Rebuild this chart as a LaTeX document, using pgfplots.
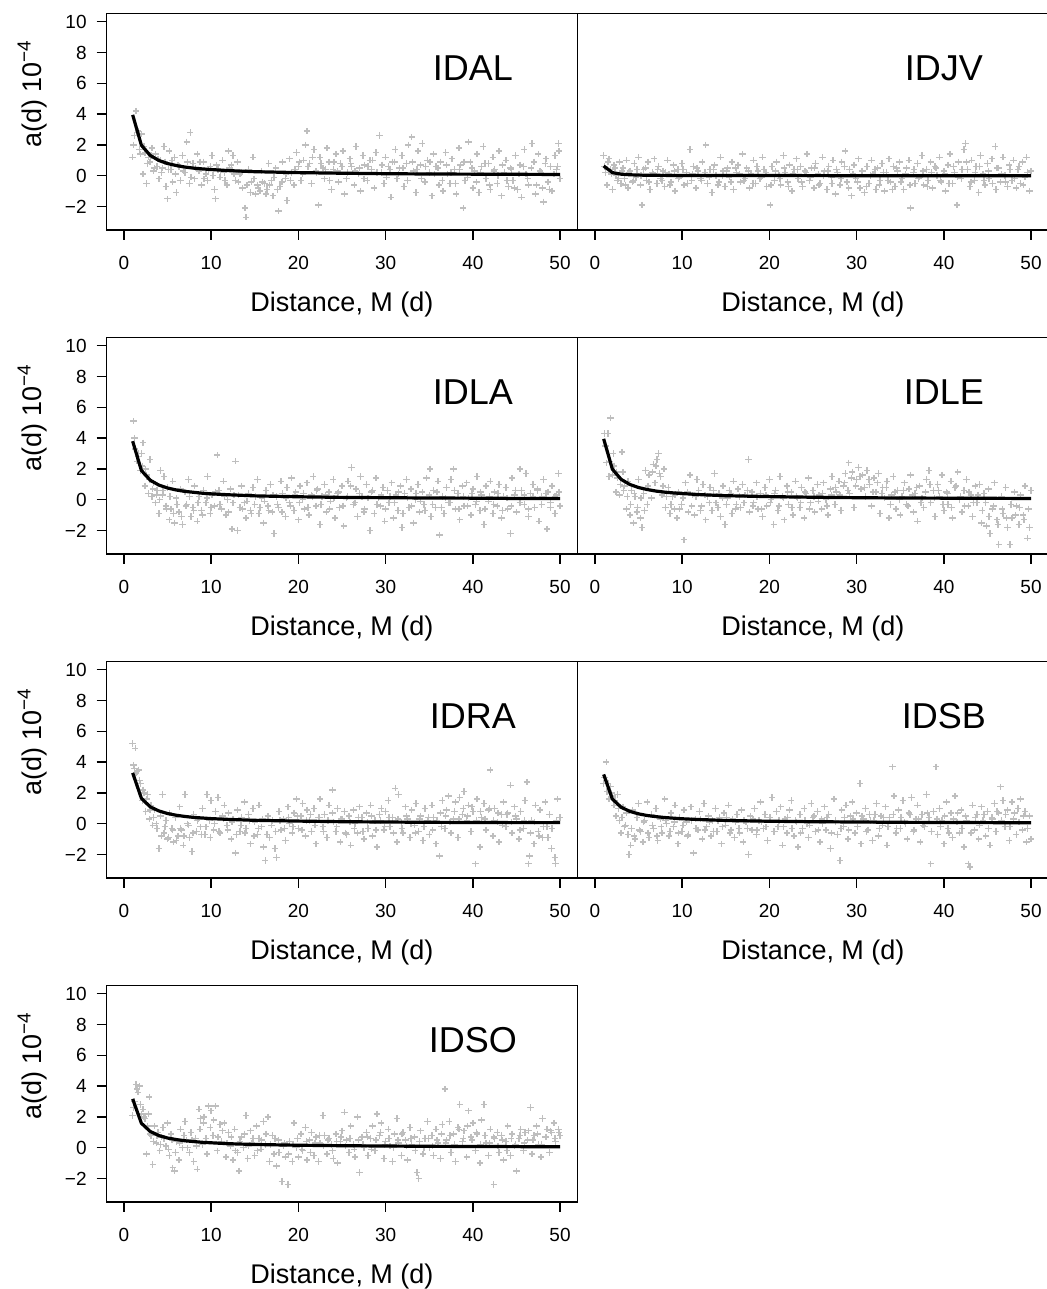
\documentclass[border=0pt]{standalone}
\usepackage{fontspec}
\setmainfont{Liberation Sans}
\usepackage{pgfplots}
\pgfplotsset{compat=1.18}
\definecolor{ptgray}{RGB}{190,190,190}
\pgfplotsset{
  rbase/.style={
    scale only axis, width=235.5pt, height=108.1pt,
    xmin=-2, xmax=52, ymin=-3.52, ymax=10.52,
    clip marker paths=true,
    xtick={0,10,20,30,40,50}, xticklabels={0,10,20,30,40,50},
    tick align=outside, xtick pos=lower, ytick pos=left,
    major tick length=5pt,
    axis line style={line width=0.75pt},
    every tick/.style={black, line width=0.75pt},
    tick label style={font=\fontsize{9.5}{11}\selectfont},
    xticklabel style={anchor=north, inner sep=0pt, yshift=-8.1pt},
    yticklabel style={anchor=east, inner sep=0pt, xshift=-4.75pt},
    xlabel={Distance, M (d)},
    xlabel style={at={(axis description cs:0.5,-0.3784)}, anchor=base, font=\fontsize{13.5}{16}\selectfont},
    anchor=south west,
  },
  rleft/.style={rbase,
    ytick={-2,0,2,4,6,8,10}, yticklabels={−2,0,2,4,6,8,10},
    ylabel={a(d) 10\textsuperscript{−4}},
    ylabel style={at={(axis description cs:-0.158,0.629)}, anchor=center, font=\fontsize{13.5}{16}\selectfont},
  },
  rright/.style={rbase, ytick=\empty},
  pts/.style={only marks, mark=+, color=ptgray, mark size=1.6pt, mark options={line width=0.7pt}},
  crv/.style={black, line width=1.6pt, line join=round, mark=none},
}
\newcommand{\plab}[1]{\node[font=\fontsize{18}{20}\selectfont] at (axis cs:40,7) {#1};}
\begin{document}
\begin{tikzpicture}
% ---------------- IDAL ----------------
\begin{axis}[rleft, at={(53.25pt,-114.95pt)}]
\addplot[pts] coordinates {(1.0,1.2)(1.2,2.6)(1.4,4.2)(1.6,2.9)(1.8,1.7)(2.0,2.7)(2.2,0.1)(2.4,1.5)(2.6,-0.5)(2.8,1.2)(3.0,0.9)(3.2,1.8)(3.4,0.3)(3.6,1.4)(3.8,0.6)(4.0,-0.2)(4.2,1.0)(4.4,0.5)(4.6,1.9)(4.8,-0.7)(5.0,-1.5)(5.2,1.6)(5.4,0.4)(5.6,-0.4)(5.8,1.2)(6.0,-1.1)(6.2,0.7)(6.5,-0.3)(6.7,1.3)(7.0,0.2)(7.2,2.2)(7.5,-0.5)(7.6,2.8)(7.9,0.8)(8.1,-0.2)(8.4,1.4)(8.6,0.3)(8.9,-0.6)(9.1,0.9)(9.4,0.1)(9.6,-0.3)(9.9,0.6)(10.1,1.3)(10.4,-0.9)(10.5,-1.5)(10.8,0.4)(11.0,-0.1)(11.3,1.0)(11.5,0.2)(11.8,-0.6)(12.0,1.6)(12.3,0.7)(12.5,1.3)(12.8,-0.3)(13.0,0.9)(13.3,0.1)(13.6,-0.8)(13.9,-2.1)(14.0,-2.7)(14.3,0.4)(14.6,-0.4)(14.8,1.2)(15.1,-1.2)(15.3,-0.6)(15.6,-1.0)(15.8,0.3)(16.1,-0.5)(16.4,-0.9)(16.6,0.8)(16.9,-0.3)(17.1,-1.3)(17.4,0.5)(17.7,-2.3)(17.9,-0.7)(18.2,0.9)(18.5,-0.2)(18.7,-1.6)(19.0,1.1)(19.2,0.2)(19.5,-0.6)(19.8,1.5)(20.0,0.6)(20.3,-0.3)(20.6,1.0)(20.8,2.0)(21.0,2.9)(21.3,0.8)(21.5,-0.5)(21.8,1.7)(22.0,0.3)(22.3,-1.9)(22.5,1.2)(22.8,0.5)(23.0,-0.2)(23.3,1.8)(23.5,0.9)(23.8,-0.9)(24.0,0.4)(24.3,1.4)(24.6,-0.4)(24.8,0.8)(25.1,1.6)(25.3,-1.2)(25.6,0.2)(25.9,1.1)(26.1,0.6)(26.4,-0.6)(26.6,1.9)(26.9,0.1)(27.1,-1.0)(27.4,1.3)(27.6,0.7)(27.9,-0.3)(28.2,1.0)(28.4,0.4)(28.7,-0.8)(28.9,1.5)(29.3,2.6)(29.5,0.2)(29.8,-0.5)(30.0,1.2)(30.3,0.6)(30.6,-1.4)(30.8,0.9)(31.1,1.7)(31.3,-0.2)(31.6,0.5)(31.9,1.3)(32.1,-0.7)(32.4,0.8)(32.6,2.0)(33.0,2.5)(33.2,0.3)(33.5,-1.1)(33.7,1.6)(34.0,0.7)(34.2,2.1)(34.5,-0.4)(34.8,1.0)(35.0,0.2)(35.3,-1.3)(35.5,1.4)(35.8,0.6)(36.1,-0.6)(36.3,0.9)(36.6,-1.0)(36.9,1.5)(37.1,0.1)(37.4,-0.5)(37.6,1.1)(37.9,0.4)(38.1,-1.2)(38.4,1.8)(38.6,0.7)(38.9,-2.1)(39.1,-0.3)(39.5,2.2)(39.7,0.9)(40.0,-0.8)(40.2,0.3)(40.5,1.4)(40.7,-1.1)(41.0,0.6)(41.2,1.9)(41.5,-0.2)(41.8,0.8)(42.0,-0.9)(42.3,1.2)(42.5,0.4)(42.8,-0.5)(43.0,1.6)(43.3,-1.3)(43.6,0.2)(43.8,1.0)(44.1,-0.7)(44.3,0.5)(44.6,-0.3)(44.9,1.3)(45.1,-0.9)(45.4,0.7)(45.6,-1.4)(45.9,1.7)(46.1,0.1)(46.4,-0.6)(46.8,2.1)(47.0,0.9)(47.2,-1.2)(47.5,1.4)(47.7,0.3)(48.0,-0.8)(48.1,-1.7)(48.4,1.1)(48.6,-0.4)(48.9,0.6)(49.1,-1.0)(49.4,1.3)(49.6,0.4)(49.8,2.1)(49.9,1.6)(50.0,-0.2)};
\addplot[pts] coordinates {(1.1,2.0)(1.5,2.8)(1.9,1.4)(2.3,1.9)(2.7,0.8)(3.1,1.3)(3.5,0.5)(3.9,1.1)(4.3,0.2)(4.7,0.9)(5.1,0.4)(5.5,1.0)(5.9,0.1)(6.3,0.6)(6.8,0.3)(7.3,0.9)(7.7,-0.1)(8.2,0.5)(8.7,0.9)(9.2,-0.2)(9.7,0.4)(10.2,0.0)(10.6,0.7)(11.1,0.3)(11.6,-0.3)(12.1,0.5)(12.6,0.1)(13.1,-0.4)(13.5,0.2)(14.1,-0.6)(14.5,-1.1)(14.9,-0.2)(15.4,-0.8)(15.9,-0.4)(16.3,-1.2)(16.7,-0.6)(17.2,-0.1)(17.6,-0.9)(18.1,-0.4)(18.6,0.1)(19.1,-0.3)(19.6,0.4)(20.1,0.9)(20.5,0.1)(21.1,0.6)(21.6,1.2)(22.1,0.2)(22.6,0.8)(23.1,0.4)(23.6,-0.3)(24.1,0.9)(24.5,0.3)(25.0,0.6)(25.5,-0.2)(26.0,0.8)(26.5,0.3)(27.0,0.5)(27.5,-0.2)(28.0,0.6)(28.5,1.0)(29.0,0.2)(29.6,0.7)(30.1,-0.1)(30.5,0.4)(31.0,0.9)(31.5,0.1)(32.0,0.5)(32.5,-0.3)(33.1,0.9)(33.6,0.4)(34.1,-0.2)(34.6,0.6)(35.1,0.9)(35.6,0.1)(36.0,0.5)(36.5,-0.3)(37.0,0.7)(37.5,0.2)(38.0,-0.5)(38.5,0.4)(39.0,0.9)(39.4,-0.1)(39.9,0.5)(40.4,-0.4)(40.9,0.2)(41.4,0.8)(41.9,-0.6)(42.4,0.3)(42.9,0.0)(43.4,0.7)(43.9,-0.3)(44.4,0.4)(44.8,-0.8)(45.3,0.1)(45.8,0.6)(46.3,-0.2)(46.7,0.5)(47.3,-0.6)(47.8,0.2)(48.3,0.8)(48.8,-0.9)(49.3,0.1)(49.7,0.6)};
\addplot[crv] coordinates {(1,3.95)(2,1.98)(3,1.32)(4,0.99)(5,0.79)(6,0.66)(7,0.56)(8,0.49)(9,0.44)(10,0.40)(12,0.33)(15,0.26)(20,0.20)(25,0.16)(30,0.13)(35,0.11)(40,0.10)(45,0.09)(50,0.08)};
\plab{IDAL}
\end{axis}
% ---------------- IDJV ----------------
\begin{axis}[rright, at={(288.75pt,-114.95pt)}]
\addplot[pts] coordinates {(1.0,1.3)(1.2,0.2)(1.4,-0.6)(1.6,1.1)(1.8,0.4)(2.0,-0.9)(2.2,0.7)(2.4,0.0)(2.6,-0.3)(2.8,0.9)(3.0,-0.5)(3.2,0.5)(3.4,-0.2)(3.6,1.0)(3.8,-0.8)(4.0,0.3)(4.3,-0.4)(4.5,0.8)(4.7,-0.1)(5.0,1.2)(5.2,-0.6)(5.4,-1.9)(5.6,0.4)(5.9,-0.3)(6.1,0.9)(6.3,-0.9)(6.6,0.2)(6.8,1.1)(7.1,-0.5)(7.3,0.6)(7.5,-0.2)(7.8,0.3)(8.0,-0.7)(8.3,1.0)(8.5,0.1)(8.7,-0.4)(9.0,0.7)(9.2,-1.0)(9.5,0.4)(9.7,-0.1)(10.0,0.8)(10.2,-0.6)(10.5,0.2)(10.9,1.7)(11.1,-0.3)(11.3,0.6)(11.6,-0.8)(11.8,0.3)(12.1,-0.2)(12.3,0.9)(12.7,2.0)(12.9,-0.5)(13.2,0.4)(13.4,-1.1)(13.7,0.7)(13.9,0.0)(14.2,-0.4)(14.4,1.2)(14.7,0.3)(14.9,-0.7)(15.2,0.5)(15.4,-0.1)(15.7,0.9)(15.9,-0.9)(16.2,0.2)(16.4,0.7)(16.7,-0.4)(16.9,1.4)(17.2,-0.2)(17.4,0.5)(17.7,-0.8)(17.9,0.1)(18.2,1.0)(18.4,-0.5)(18.7,0.3)(18.9,-0.2)(19.2,1.2)(19.4,0.4)(19.7,-0.7)(20.1,-1.9)(20.3,0.6)(20.6,-0.3)(20.8,0.9)(21.1,0.0)(21.3,-0.6)(21.6,1.3)(21.8,0.2)(22.1,-0.4)(22.3,0.7)(22.6,-1.0)(22.8,0.4)(23.1,1.1)(23.3,-0.2)(23.6,0.6)(23.8,-0.7)(24.1,0.3)(24.3,1.4)(24.6,-0.3)(24.8,0.5)(25.1,-0.8)(25.3,0.8)(25.6,0.1)(25.8,-0.5)(26.1,1.2)(26.3,0.3)(26.6,-0.9)(26.8,0.6)(27.1,-0.1)(27.3,1.0)(27.6,-1.2)(27.8,0.2)(28.1,-0.6)(28.3,0.9)(28.7,1.6)(28.9,-0.4)(29.2,0.4)(29.4,-1.3)(29.7,0.7)(29.9,-0.2)(30.2,1.1)(30.4,-0.8)(30.7,0.3)(30.9,-1.1)(31.2,0.6)(31.4,-0.5)(31.7,1.0)(31.9,0.1)(32.2,-0.9)(32.4,0.5)(32.7,-0.3)(32.9,0.8)(33.2,-1.0)(33.4,0.2)(33.7,1.1)(33.9,-0.4)(34.2,0.6)(34.4,-0.7)(34.7,0.3)(34.9,0.9)(35.2,-0.2)(35.4,-0.9)(35.7,0.5)(36.0,1.0)(36.2,-2.1)(36.5,0.2)(36.7,-0.5)(37.0,0.8)(37.2,-0.1)(37.5,1.3)(37.7,-0.6)(38.0,0.4)(38.2,-0.3)(38.5,0.9)(38.7,-0.8)(39.0,0.6)(39.2,0.0)(39.5,1.2)(39.7,-0.4)(40.0,0.3)(40.2,-1.0)(40.5,0.7)(40.7,1.4)(41.0,-0.5)(41.2,0.2)(41.5,-1.9)(41.7,0.9)(42.0,-0.2)(42.3,1.7)(42.5,2.1)(42.7,0.4)(43.0,-0.7)(43.2,1.0)(43.5,-0.3)(43.7,0.6)(44.0,-1.1)(44.2,1.3)(44.5,0.1)(44.7,-0.6)(45.0,0.8)(45.2,-0.2)(45.5,1.1)(45.9,1.9)(46.0,-0.9)(46.3,0.5)(46.5,-0.4)(46.8,1.2)(47.0,0.0)(47.3,-0.7)(47.5,0.7)(47.8,-0.3)(48.0,1.0)(48.3,-0.8)(48.5,0.4)(48.8,-0.5)(49.0,0.9)(49.3,-0.1)(49.5,1.2)(49.8,-1.0)(50.0,0.3)};
\addplot[pts] coordinates {(1.1,0.6)(1.5,0.9)(1.9,0.1)(2.3,0.5)(2.7,-0.2)(3.1,0.3)(3.5,-0.6)(3.9,0.2)(4.4,-0.3)(4.8,0.4)(5.3,0.0)(5.8,0.5)(6.2,-0.4)(6.7,0.1)(7.2,0.4)(7.7,-0.3)(8.1,0.2)(8.6,-0.6)(9.1,0.3)(9.6,-0.2)(10.1,0.4)(10.6,-0.5)(11.2,0.1)(11.7,0.5)(12.2,-0.3)(12.6,0.2)(13.1,-0.1)(13.6,0.4)(14.1,-0.6)(14.6,0.0)(15.1,0.3)(15.6,-0.4)(16.1,0.5)(16.6,0.1)(17.1,-0.3)(17.6,0.3)(18.1,-0.5)(18.6,0.6)(19.1,-0.1)(19.6,0.2)(20.2,-0.6)(20.7,0.3)(21.2,-0.2)(21.7,0.5)(22.2,-0.7)(22.7,0.1)(23.2,0.4)(23.7,-0.4)(24.2,0.2)(24.7,-0.1)(25.2,0.5)(25.7,-0.6)(26.2,0.0)(26.7,0.3)(27.2,-0.5)(27.7,0.4)(28.2,-0.2)(28.6,0.6)(29.1,-0.8)(29.6,0.1)(30.1,-0.4)(30.6,0.3)(31.1,-0.7)(31.6,0.0)(32.1,0.4)(32.6,-0.6)(33.1,0.2)(33.6,-0.3)(34.1,-0.9)(34.6,0.5)(35.1,-0.4)(35.6,0.1)(36.1,-0.6)(36.6,0.4)(37.1,-0.2)(37.6,0.3)(38.1,-0.7)(38.6,0.2)(39.1,0.5)(39.6,-0.3)(40.1,0.1)(40.6,-0.5)(41.1,0.6)(41.6,-0.1)(42.1,0.4)(42.6,0.9)(43.1,-0.4)(43.6,0.2)(44.1,0.6)(44.6,-0.3)(45.1,0.3)(45.6,-0.5)(46.1,0.5)(46.6,0.1)(47.1,-0.4)(47.6,0.4)(48.1,-0.2)(48.6,0.6)(49.1,-0.6)(49.6,0.2)};
\addplot[crv] coordinates {(1,0.63)(2,0.20)(3,0.10)(4,0.06)(5,0.04)(6,0.03)(8,0.02)(10,0.01)(20,0.01)(30,0.0)(40,0.0)(50,0.0)};
\plab{IDJV}
\end{axis}
% ---------------- IDLA ----------------
\begin{axis}[rleft, at={(53.25pt,-276.95pt)}]
\addplot[pts] coordinates {(1.1,5.1)(1.3,3.3)(1.5,2.5)(1.7,3.0)(1.9,1.9)(2.1,2.2)(2.2,3.7)(2.4,0.9)(2.6,1.6)(2.8,0.4)(3.0,2.6)(3.2,0.2)(3.4,1.1)(3.6,-0.2)(3.8,0.6)(4.0,-0.9)(4.2,1.9)(4.4,0.3)(4.6,1.5)(4.8,-0.4)(5.0,0.8)(5.2,-1.3)(5.4,-0.6)(5.6,1.2)(5.8,-1.5)(6.0,0.1)(6.3,-0.8)(6.5,0.7)(6.7,-1.6)(7.0,0.5)(7.2,-0.3)(7.4,1.3)(7.7,-1.1)(7.9,-0.5)(8.1,0.9)(8.4,-1.4)(8.6,0.2)(8.9,-0.7)(9.1,0.6)(9.4,-0.2)(9.6,1.5)(9.9,-0.9)(10.1,0.3)(10.4,-0.4)(10.7,2.9)(10.9,0.6)(11.2,-0.6)(11.4,1.2)(11.7,-1.0)(11.9,0.0)(12.2,0.7)(12.4,-1.9)(12.6,0.3)(12.8,2.5)(13.0,-2.0)(13.3,-0.5)(13.5,0.9)(13.8,-0.2)(14.0,-1.2)(14.3,0.4)(14.5,-0.7)(14.8,0.8)(15.0,-0.3)(15.3,1.3)(15.5,-0.9)(15.8,0.1)(16.0,-1.5)(16.3,0.6)(16.5,-0.4)(16.8,1.0)(17.0,-0.8)(17.2,-2.2)(17.5,0.2)(17.7,-0.5)(18.0,1.2)(18.2,0.4)(18.5,-1.1)(18.7,0.8)(19.0,-0.2)(19.2,1.4)(19.5,-0.7)(19.7,0.5)(20.0,-1.3)(20.2,0.9)(20.5,0.0)(20.7,-0.6)(21.0,1.1)(21.2,-1.0)(21.5,0.3)(21.7,1.5)(22.0,-0.4)(22.2,0.7)(22.5,-1.6)(22.7,0.2)(23.0,1.0)(23.2,-0.8)(23.5,0.5)(23.7,-0.1)(24.0,1.3)(24.2,-1.2)(24.5,0.4)(24.7,-0.5)(25.0,0.9)(25.2,-1.7)(25.5,0.1)(25.7,1.2)(26.1,2.1)(26.3,-0.3)(26.6,0.7)(26.8,-1.1)(27.1,1.5)(27.3,0.2)(27.6,-0.6)(27.8,1.0)(28.2,-2.0)(28.4,0.5)(28.7,-0.9)(28.9,1.4)(29.2,0.1)(29.4,-0.4)(29.7,0.8)(29.9,-1.4)(30.2,0.6)(30.4,-0.2)(30.7,1.1)(30.9,-1.2)(31.2,0.3)(31.4,-0.7)(31.7,0.9)(31.9,-1.8)(32.2,0.4)(32.4,1.3)(32.7,-0.5)(32.9,0.7)(33.2,-1.5)(33.4,0.0)(33.7,1.0)(33.9,-0.8)(34.2,0.5)(34.4,-0.3)(34.7,1.4)(35.1,2.0)(35.2,-1.1)(35.5,0.6)(35.7,-0.5)(36.0,1.2)(36.2,-2.3)(36.5,0.2)(36.7,-0.9)(37.0,0.8)(37.2,-0.2)(37.5,1.3)(37.8,2.0)(38.0,-0.6)(38.3,0.4)(38.5,-1.3)(38.8,0.9)(39.0,-0.4)(39.3,1.1)(39.5,0.1)(39.8,-1.0)(40.0,0.7)(40.3,-0.3)(40.5,1.5)(40.8,-0.7)(41.0,0.3)(41.3,-1.6)(41.5,0.9)(41.8,-0.1)(42.0,1.2)(42.3,-0.9)(42.5,0.5)(42.8,-0.4)(43.0,1.0)(43.3,-1.2)(43.5,0.2)(43.8,0.8)(44.0,-0.6)(44.3,-2.2)(44.5,1.4)(44.8,0.3)(45.0,-0.8)(45.4,2.0)(45.6,0.6)(45.9,-0.3)(46.1,1.7)(46.4,-1.1)(46.6,0.4)(46.9,1.0)(47.1,-0.5)(47.4,0.7)(47.6,-1.4)(47.9,0.2)(48.1,1.3)(48.5,-1.9)(48.6,0.5)(48.9,-0.2)(49.1,0.9)(49.4,-0.9)(49.6,0.3)(49.8,1.7)(50.0,-0.4)};
\addplot[pts] coordinates {(1.2,4.0)(1.6,2.8)(2.0,3.0)(2.5,2.0)(2.9,1.3)(3.3,0.7)(3.7,0.3)(4.1,0.0)(4.5,0.6)(4.9,-0.6)(5.3,0.2)(5.7,-0.9)(6.1,-0.3)(6.6,-1.1)(7.1,-0.4)(7.5,0.2)(8.0,-0.7)(8.5,-0.2)(9.0,-1.0)(9.5,0.1)(10.0,-0.5)(10.5,0.5)(11.0,-0.3)(11.5,0.2)(12.0,-0.8)(12.5,-0.2)(13.1,0.3)(13.6,-0.6)(14.1,-0.1)(14.6,-0.9)(15.1,0.2)(15.6,-0.5)(16.1,-0.1)(16.6,-0.7)(17.1,0.3)(17.6,-0.3)(18.1,-0.8)(18.6,0.1)(19.1,-0.4)(19.6,0.3)(20.1,-0.2)(20.6,0.4)(21.1,-0.5)(21.6,0.2)(22.1,0.6)(22.6,-0.3)(23.1,0.3)(23.6,-0.6)(24.1,0.1)(24.6,0.5)(25.1,-0.4)(25.6,0.2)(26.0,0.9)(26.5,-0.2)(27.0,0.4)(27.5,-0.8)(28.0,0.1)(28.5,0.6)(29.0,-0.3)(29.5,0.3)(30.0,-0.6)(30.5,0.2)(31.0,-0.2)(31.5,0.5)(32.0,-0.9)(32.5,0.1)(33.0,-0.4)(33.5,0.4)(34.0,-0.1)(34.5,-0.7)(35.0,0.3)(35.4,-0.3)(35.9,0.5)(36.4,-0.5)(36.9,0.1)(37.4,-0.2)(37.9,0.6)(38.4,-0.6)(38.9,0.2)(39.4,-0.4)(39.9,0.4)(40.4,-0.1)(40.9,0.5)(41.4,-0.6)(41.9,0.2)(42.4,-0.3)(42.9,0.4)(43.4,-0.7)(43.9,0.1)(44.4,-0.4)(44.9,0.6)(45.4,-0.2)(45.9,0.3)(46.4,-0.6)(46.9,0.2)(47.4,0.6)(47.9,-0.3)(48.4,0.4)(48.9,-0.5)(49.4,0.2)(49.9,0.5)};
\addplot[crv] coordinates {(1,3.80)(2,1.90)(3,1.27)(4,0.95)(5,0.76)(6,0.63)(7,0.54)(8,0.48)(9,0.42)(10,0.38)(12,0.32)(15,0.25)(20,0.19)(25,0.15)(30,0.13)(35,0.11)(40,0.10)(45,0.08)(50,0.08)};
\plab{IDLA}
\end{axis}
% ---------------- IDLE ----------------
\begin{axis}[rright, at={(288.75pt,-276.95pt)}]
\addplot[pts] coordinates {(1.1,4.3)(1.3,2.4)(1.5,4.3)(1.6,1.5)(1.8,5.3)(2.0,1.6)(2.2,2.2)(2.4,0.5)(2.6,1.4)(2.8,0.3)(3.1,3.1)(3.2,1.8)(3.4,0.9)(3.6,-0.6)(3.8,1.2)(4.0,-1.0)(4.2,0.6)(4.4,-1.5)(4.6,0.2)(4.8,-0.8)(5.0,1.3)(5.2,-1.2)(5.4,-1.8)(5.6,0.4)(5.8,1.9)(6.0,-0.3)(6.2,1.6)(6.5,0.1)(6.7,2.3)(6.9,1.1)(7.1,2.6)(7.3,3.0)(7.5,1.5)(7.7,0.3)(7.9,2.0)(8.1,-0.5)(8.4,0.8)(8.6,-0.9)(8.9,0.2)(9.1,-0.6)(9.4,-1.2)(9.6,0.5)(9.9,-0.3)(10.2,-2.6)(10.4,1.1)(10.7,-0.8)(10.9,1.6)(11.2,0.3)(11.4,-1.0)(11.7,1.3)(11.9,0.6)(12.2,-0.4)(12.4,1.0)(12.7,-1.3)(12.9,0.2)(13.2,0.8)(13.4,-0.7)(13.7,1.7)(13.9,-0.2)(14.2,0.4)(14.4,-1.1)(14.7,0.9)(14.9,-1.6)(15.2,0.1)(15.4,0.6)(15.7,-0.9)(15.9,1.2)(16.2,-0.3)(16.4,0.7)(16.7,-0.5)(16.9,1.0)(17.2,0.3)(17.6,2.6)(17.7,-0.8)(18.0,0.5)(18.2,-0.2)(18.5,1.1)(18.7,-0.6)(19.0,0.4)(19.2,-1.1)(19.5,0.8)(19.7,-0.4)(20.0,1.3)(20.2,0.0)(20.5,-1.6)(20.7,0.6)(21.0,-0.7)(21.2,1.5)(21.5,0.2)(21.7,-1.3)(22.0,0.9)(22.2,-0.3)(22.5,0.5)(22.7,-1.0)(23.0,1.2)(23.2,0.1)(23.5,-0.5)(23.7,0.8)(24.0,-1.2)(24.2,0.4)(24.5,1.4)(24.7,-0.2)(25.0,0.6)(25.2,-0.8)(25.5,1.0)(25.7,0.3)(26.0,-0.6)(26.2,1.1)(26.5,0.0)(26.7,-1.0)(27.0,0.7)(27.2,1.5)(27.5,-0.3)(27.7,0.5)(28.0,1.2)(28.2,-0.7)(28.5,0.9)(28.7,1.7)(29.1,2.4)(29.2,0.4)(29.5,1.8)(29.7,-0.5)(30.0,1.3)(30.2,2.1)(30.5,0.7)(30.7,1.6)(31.0,0.2)(31.2,1.9)(31.5,1.0)(31.7,-0.4)(32.0,1.4)(32.2,0.5)(32.5,1.7)(32.7,-0.9)(33.0,0.8)(33.2,0.1)(33.5,1.2)(33.7,-1.2)(34.0,0.3)(34.2,1.5)(34.5,-0.6)(34.7,0.6)(35.0,-1.0)(35.2,0.2)(35.5,1.1)(35.7,-0.3)(36.0,0.7)(36.2,1.6)(36.5,-0.8)(36.7,0.4)(37.0,-1.4)(37.2,0.9)(37.5,0.1)(37.7,-0.5)(38.0,1.3)(38.3,1.9)(38.5,-0.2)(38.8,0.6)(39.0,-1.1)(39.3,1.0)(39.5,0.2)(39.8,1.6)(40.0,-0.7)(40.3,0.5)(40.5,-0.3)(40.8,1.2)(41.0,-1.2)(41.3,0.8)(41.6,1.8)(41.8,0.0)(42.1,-0.8)(42.3,0.6)(42.6,1.3)(42.8,-0.4)(43.1,0.3)(43.3,-1.1)(43.6,0.9)(43.8,-0.2)(44.1,1.0)(44.3,-1.5)(44.6,0.4)(44.9,-1.7)(45.1,0.7)(45.3,-2.2)(45.6,-0.6)(45.8,1.1)(46.1,-1.3)(46.3,-2.9)(46.6,0.2)(46.8,-0.9)(47.1,0.8)(47.3,-1.8)(47.6,-2.9)(47.8,-1.2)(48.1,0.5)(48.3,-0.4)(48.6,-1.6)(48.8,0.3)(49.1,-1.0)(49.3,0.9)(49.6,-2.5)(49.8,-1.8)(50.0,0.6)};
\addplot[pts] coordinates {(1.2,3.5)(1.7,2.5)(2.1,3.0)(2.5,1.8)(2.9,1.0)(3.3,0.6)(3.7,0.2)(4.1,-0.3)(4.5,0.4)(4.9,-0.5)(5.3,0.1)(5.7,-0.7)(6.1,0.9)(6.6,1.8)(7.0,2.2)(7.4,1.7)(7.8,0.9)(8.2,0.2)(8.7,-0.3)(9.2,0.3)(9.7,-0.6)(10.1,0.1)(10.6,0.5)(11.1,-0.4)(11.6,0.2)(12.1,-0.7)(12.6,0.3)(13.1,-0.2)(13.6,0.6)(14.1,-0.5)(14.6,0.1)(15.1,-0.3)(15.6,0.4)(16.1,-0.6)(16.6,0.2)(17.1,-0.2)(17.5,0.6)(18.1,-0.4)(18.6,0.2)(19.1,-0.6)(19.6,0.3)(20.1,-0.2)(20.6,0.4)(21.1,-0.4)(21.6,0.1)(22.1,0.5)(22.6,-0.5)(23.1,0.2)(23.6,-0.2)(24.1,0.5)(24.6,-0.6)(25.1,0.2)(25.6,-0.1)(26.1,0.4)(26.6,-0.4)(27.1,0.3)(27.6,0.8)(28.1,0.3)(28.6,1.1)(29.0,0.6)(29.4,1.4)(29.9,0.9)(30.4,1.5)(30.9,0.8)(31.4,1.3)(31.9,0.5)(32.4,1.1)(32.9,0.4)(33.4,0.8)(33.9,-0.3)(34.4,0.5)(34.9,0.0)(35.4,0.6)(35.9,-0.4)(36.4,0.3)(36.9,0.8)(37.4,-0.2)(37.9,0.5)(38.4,1.0)(38.9,0.1)(39.4,0.6)(39.9,-0.3)(40.4,0.4)(40.9,-0.5)(41.4,0.9)(41.9,0.2)(42.4,-0.4)(42.9,0.5)(43.4,-0.2)(43.9,0.3)(44.4,-0.7)(44.8,-0.2)(45.2,-1.1)(45.7,-0.4)(46.2,-1.6)(46.7,-0.6)(47.2,-1.2)(47.7,-0.3)(48.2,-1.0)(48.7,-0.5)(49.2,-1.3)(49.7,-0.6)};
\addplot[crv] coordinates {(1,3.95)(2,1.98)(3,1.32)(4,0.99)(5,0.79)(6,0.66)(7,0.56)(8,0.49)(9,0.44)(10,0.40)(12,0.33)(15,0.26)(20,0.20)(25,0.16)(30,0.13)(35,0.11)(40,0.10)(45,0.09)(50,0.08)};
\plab{IDLE}
\end{axis}
% ---------------- IDRA ----------------
\begin{axis}[rleft, at={(53.25pt,-438.95pt)}]
\addplot[pts] coordinates {(1.0,5.2)(1.2,3.6)(1.3,4.9)(1.5,3.4)(1.7,3.5)(1.9,2.6)(2.1,1.5)(2.3,2.0)(2.5,0.8)(2.7,1.9)(2.9,0.3)(3.1,1.2)(3.3,-0.1)(3.5,0.9)(3.7,0.0)(4.0,-1.6)(4.2,0.5)(4.4,1.9)(4.6,-0.6)(4.8,0.2)(5.0,-1.0)(5.2,0.7)(5.5,-0.3)(5.7,-1.2)(5.9,0.4)(6.2,-0.8)(6.4,1.1)(6.6,-0.4)(6.8,-1.4)(7.0,1.9)(7.3,0.0)(7.5,-0.9)(7.8,-1.8)(8.0,0.6)(8.3,-0.5)(8.5,0.3)(8.8,-0.2)(9.0,1.0)(9.3,-0.7)(9.5,1.9)(9.8,0.2)(10.0,1.5)(10.3,-0.4)(10.5,0.8)(10.8,1.7)(11.0,-0.6)(11.3,0.5)(11.5,1.2)(11.8,-0.1)(12.0,0.7)(12.3,-1.0)(12.5,0.3)(12.8,-1.9)(13.0,0.9)(13.3,-0.5)(13.5,0.4)(13.8,1.4)(14.0,-0.3)(14.3,0.6)(14.5,-1.3)(14.8,1.0)(15.0,0.1)(15.3,-0.7)(15.5,1.2)(15.8,-0.2)(16.0,-1.5)(16.2,-2.4)(16.5,0.5)(16.7,-0.9)(17.0,0.2)(17.3,-1.6)(17.5,-2.2)(17.8,0.8)(18.0,-0.4)(18.3,0.3)(18.5,-1.1)(18.8,1.1)(19.0,0.0)(19.3,-0.6)(19.5,0.7)(19.8,1.6)(20.0,-0.3)(20.3,0.5)(20.5,1.3)(20.8,-0.8)(21.0,0.9)(21.3,0.2)(21.5,-0.5)(21.8,1.0)(22.0,-1.3)(22.3,0.4)(22.5,1.6)(22.8,-0.2)(23.0,0.6)(23.3,-0.9)(23.5,1.2)(23.9,2.2)(24.0,0.1)(24.3,-0.5)(24.5,1.0)(24.8,-1.2)(25.0,0.3)(25.3,0.8)(25.5,-0.7)(25.8,0.5)(26.0,-1.4)(26.3,0.9)(26.5,0.0)(26.8,-0.6)(27.0,1.1)(27.3,0.4)(27.5,-1.0)(27.8,0.7)(28.0,-0.3)(28.3,1.2)(28.5,-0.8)(28.8,0.2)(29.0,-1.5)(29.3,0.6)(29.5,1.0)(29.8,-0.4)(30.0,0.8)(30.3,1.5)(30.5,-0.2)(30.8,0.4)(31.1,2.3)(31.3,-1.2)(31.5,1.9)(31.8,0.1)(32.0,-0.6)(32.3,1.1)(32.5,0.3)(32.8,-0.9)(33.0,0.9)(33.3,-0.1)(33.5,1.3)(33.8,-0.5)(34.0,0.5)(34.3,-1.1)(34.5,1.0)(34.8,0.2)(35.0,-0.7)(35.3,1.2)(35.5,0.4)(35.8,-1.3)(36.2,-2.1)(36.3,0.7)(36.5,1.5)(36.8,-0.3)(37.0,0.9)(37.2,1.8)(37.5,-0.6)(37.8,0.3)(38.0,1.4)(38.3,-0.9)(38.5,1.7)(38.8,0.6)(39.0,2.1)(39.3,0.2)(39.5,1.2)(39.8,-0.5)(40.0,0.8)(40.3,-2.6)(40.5,1.6)(40.8,-1.5)(41.0,0.4)(41.3,1.3)(41.5,-0.4)(41.8,0.9)(42.0,3.5)(42.3,-0.8)(42.5,1.0)(42.8,0.1)(43.0,-1.2)(43.3,0.6)(43.5,1.4)(43.8,-0.2)(44.0,0.7)(44.3,2.5)(44.5,-0.6)(44.8,1.1)(45.0,0.3)(45.3,-1.0)(45.5,0.8)(45.8,-0.3)(46.0,1.5)(46.2,2.7)(46.4,-2.6)(46.5,-2.1)(46.7,0.2)(47.0,-1.3)(47.2,1.2)(47.5,-0.5)(47.7,0.9)(48.0,-0.9)(48.3,1.4)(48.5,-0.2)(48.8,0.6)(49.0,-1.6)(49.4,-2.2)(49.5,-2.6)(49.7,1.6)(50.0,0.4)};
\addplot[pts] coordinates {(1.1,3.8)(1.4,3.3)(1.8,2.8)(2.2,2.2)(2.6,1.6)(3.0,0.9)(3.4,0.4)(3.8,-0.3)(4.3,-0.8)(4.7,-0.2)(5.1,-0.9)(5.6,-0.4)(6.0,-1.1)(6.5,-0.3)(6.9,-0.8)(7.4,-0.1)(7.9,-0.6)(8.4,0.2)(8.9,-0.7)(9.4,-0.2)(9.9,-0.9)(10.4,0.0)(10.9,-0.5)(11.4,0.3)(11.9,-0.4)(12.4,0.1)(12.9,-0.7)(13.4,-0.1)(13.9,-0.6)(14.4,0.2)(14.9,-0.8)(15.4,-0.3)(15.9,0.3)(16.4,-0.7)(16.9,-0.1)(17.4,-0.5)(17.9,0.2)(18.4,-0.3)(18.9,0.4)(19.4,-0.2)(19.9,0.5)(20.4,-0.4)(20.9,0.2)(21.4,0.6)(21.9,-0.1)(22.4,0.4)(22.9,-0.5)(23.4,0.2)(23.9,0.7)(24.4,-0.2)(24.9,0.3)(25.4,-0.6)(25.9,0.1)(26.4,-0.3)(26.9,0.4)(27.4,-0.5)(27.9,0.1)(28.4,0.5)(28.9,-0.4)(29.4,0.2)(29.9,-0.2)(30.4,0.4)(30.9,-0.6)(31.4,0.3)(31.9,-0.3)(32.4,0.5)(32.9,0.0)(33.4,-0.6)(33.9,0.3)(34.4,-0.2)(34.9,0.4)(35.4,-0.4)(35.9,0.2)(36.4,-0.2)(36.9,0.5)(37.4,0.1)(37.9,0.8)(38.4,0.3)(38.9,1.0)(39.4,0.5)(39.9,1.1)(40.4,0.2)(40.9,0.8)(41.4,0.3)(41.9,1.0)(42.4,0.2)(42.9,0.7)(43.4,-0.1)(43.9,0.6)(44.4,0.1)(44.9,0.5)(45.4,-0.4)(45.9,0.2)(46.6,-0.6)(47.1,0.1)(47.6,-0.8)(48.1,-0.2)(48.6,-0.9)(49.1,-0.3)(49.6,0.2)};
\addplot[crv] coordinates {(1,3.30)(2,1.65)(3,1.10)(4,0.83)(5,0.66)(6,0.55)(7,0.47)(8,0.41)(9,0.37)(10,0.33)(12,0.28)(15,0.22)(20,0.17)(25,0.13)(30,0.11)(35,0.09)(40,0.08)(45,0.07)(50,0.07)};
\plab{IDRA}
\end{axis}
% ---------------- IDSB ----------------
\begin{axis}[rright, at={(288.75pt,-438.95pt)}]
\addplot[pts] coordinates {(1.0,2.6)(1.3,4.0)(1.4,2.1)(1.6,1.6)(1.8,2.4)(2.0,1.8)(2.2,1.2)(2.4,0.5)(2.6,1.9)(2.8,0.2)(3.0,-0.6)(3.2,1.1)(3.4,-0.2)(3.6,0.7)(3.9,-2.0)(4.1,-1.4)(4.3,0.9)(4.5,-0.8)(4.8,0.4)(5.0,1.3)(5.2,-0.5)(5.5,-1.2)(5.7,0.2)(6.0,1.4)(6.2,-0.9)(6.5,0.6)(6.7,-0.3)(7.0,1.0)(7.2,-1.1)(7.5,0.3)(7.7,-0.6)(8.0,1.6)(8.2,0.0)(8.5,-0.8)(8.7,0.7)(9.0,-0.2)(9.2,1.2)(9.5,-1.3)(9.7,0.4)(10.0,-0.5)(10.2,0.9)(10.5,0.1)(10.7,-0.7)(11.0,1.1)(11.3,-1.9)(11.5,0.3)(11.8,-0.4)(12.0,0.8)(12.3,-1.0)(12.5,1.3)(12.8,-0.2)(13.0,0.5)(13.3,-0.8)(13.5,0.2)(13.8,1.0)(14.0,-0.5)(14.3,0.4)(14.5,-1.3)(14.8,0.7)(15.0,-0.1)(15.3,1.2)(15.5,-0.6)(15.8,0.3)(16.0,-0.9)(16.3,0.6)(16.5,-0.3)(16.8,0.9)(17.0,-1.2)(17.3,0.1)(17.6,-2.0)(17.8,0.5)(18.0,-0.4)(18.3,1.0)(18.5,-0.7)(18.8,0.2)(19.0,1.4)(19.3,-0.3)(19.5,0.6)(19.8,-1.1)(20.0,0.4)(20.3,1.7)(20.5,-0.5)(20.8,0.8)(21.0,-0.2)(21.3,1.1)(21.5,-1.4)(21.8,0.3)(22.0,-0.6)(22.3,0.9)(22.5,1.5)(22.8,-0.8)(23.0,0.2)(23.3,-1.5)(23.5,0.6)(23.8,-0.3)(24.0,1.0)(24.3,0.0)(24.5,-0.9)(24.8,1.3)(25.0,0.4)(25.3,-0.5)(25.5,0.8)(25.8,-1.2)(26.0,0.3)(26.3,1.1)(26.5,-0.4)(26.8,0.6)(27.0,-1.6)(27.4,1.6)(27.6,0.1)(27.8,-0.7)(28.1,-2.4)(28.3,0.9)(28.5,-0.2)(28.8,1.2)(29.0,-1.0)(29.3,0.5)(29.5,1.4)(29.8,-0.6)(30.0,0.7)(30.4,2.6)(30.5,-1.3)(30.8,0.3)(31.0,1.0)(31.3,-0.4)(31.5,0.6)(31.8,-1.1)(32.0,0.2)(32.3,1.3)(32.5,-0.8)(32.8,0.5)(33.0,-0.1)(33.3,1.1)(33.5,-1.4)(33.8,0.4)(34.1,3.7)(34.3,1.8)(34.5,-0.6)(34.8,0.9)(35.0,-0.3)(35.3,1.5)(35.5,0.1)(35.8,-1.0)(36.0,0.7)(36.3,1.7)(36.5,-0.5)(36.8,0.3)(37.0,1.2)(37.3,-1.2)(37.5,0.6)(37.8,-0.2)(38.0,1.9)(38.3,0.4)(38.5,-2.6)(38.8,0.8)(39.1,3.7)(39.3,-0.7)(39.5,1.0)(39.8,0.2)(40.0,-1.3)(40.3,1.4)(40.5,-0.3)(40.8,0.7)(41.0,-0.9)(41.3,1.8)(41.5,0.1)(41.8,-0.6)(42.0,0.9)(42.3,-1.5)(42.5,0.5)(42.8,-2.6)(43.0,-2.8)(43.3,1.2)(43.5,-0.4)(43.8,0.6)(44.0,-1.0)(44.3,1.1)(44.5,0.2)(44.8,-0.8)(45.0,0.8)(45.3,-1.4)(45.5,0.4)(45.8,1.3)(46.0,-0.5)(46.3,0.7)(46.5,2.4)(46.8,1.5)(47.0,-0.2)(47.3,0.9)(47.5,-1.1)(47.8,1.4)(48.0,0.3)(48.3,-0.7)(48.5,1.0)(48.8,1.6)(49.0,-0.4)(49.3,0.8)(49.5,-1.2)(49.8,0.5)(50.0,-1.0)};
\addplot[pts] coordinates {(1.1,3.0)(1.5,2.6)(1.9,2.0)(2.3,1.5)(2.7,1.0)(3.1,0.4)(3.5,-0.1)(3.8,-0.7)(4.2,-0.3)(4.6,-1.0)(5.1,-0.4)(5.6,0.1)(6.1,-0.6)(6.6,-0.1)(7.1,-0.8)(7.6,-0.2)(8.1,0.2)(8.6,-0.5)(9.1,0.1)(9.6,-0.6)(10.1,-0.1)(10.6,-0.8)(11.1,0.2)(11.6,-0.3)(12.1,0.3)(12.6,-0.4)(13.1,0.1)(13.6,-0.5)(14.1,0.2)(14.6,-0.2)(15.1,0.4)(15.6,-0.4)(16.1,0.1)(16.6,-0.6)(17.1,0.2)(17.5,-0.3)(18.1,0.3)(18.6,-0.4)(19.1,0.1)(19.6,-0.2)(20.1,0.4)(20.6,-0.5)(21.1,0.2)(21.6,-0.2)(22.1,0.4)(22.6,-0.3)(23.1,0.1)(23.6,-0.6)(24.1,0.2)(24.6,-0.1)(25.1,0.5)(25.6,-0.4)(26.1,0.0)(26.6,0.4)(27.1,-0.6)(27.6,0.2)(28.2,-0.3)(28.6,0.4)(29.1,-0.4)(29.6,0.3)(30.1,-0.2)(30.6,0.5)(31.1,-0.5)(31.6,0.2)(32.1,0.6)(32.6,-0.3)(33.1,0.4)(33.6,-0.2)(34.2,0.6)(34.6,-0.3)(35.1,0.4)(35.6,0.0)(36.1,0.6)(36.6,-0.4)(37.1,0.3)(37.6,-0.1)(38.1,0.7)(38.6,-0.5)(39.2,0.3)(39.6,-0.2)(40.1,0.5)(40.6,-0.6)(41.1,0.3)(41.6,0.7)(42.1,-0.3)(42.6,0.2)(43.1,-0.6)(43.6,0.4)(44.1,-0.1)(44.6,0.6)(45.1,-0.3)(45.6,0.3)(46.1,0.8)(46.6,0.2)(47.1,0.6)(47.6,-0.2)(48.1,0.7)(48.6,0.1)(49.1,0.5)(49.6,-0.3)};
\addplot[crv] coordinates {(1,3.20)(2,1.60)(3,1.07)(4,0.80)(5,0.64)(6,0.53)(7,0.46)(8,0.40)(9,0.36)(10,0.32)(12,0.27)(15,0.21)(20,0.16)(25,0.13)(30,0.11)(35,0.09)(40,0.08)(45,0.07)(50,0.06)};
\plab{IDSB}
\end{axis}
% ---------------- IDSO ----------------
\begin{axis}[rleft, at={(53.25pt,-600.95pt)}]
\addplot[pts] coordinates {(1.0,2.1)(1.2,3.0)(1.4,4.1)(1.6,3.6)(1.8,4.0)(2.0,2.2)(2.2,2.5)(2.4,1.9)(2.6,-0.4)(2.8,2.2)(2.9,3.3)(3.1,0.8)(3.3,-1.1)(3.5,1.4)(3.7,0.3)(3.9,1.0)(4.1,-0.2)(4.3,0.7)(4.5,1.3)(4.8,0.1)(5.0,1.6)(5.2,-0.5)(5.4,0.9)(5.6,-1.3)(5.8,-1.5)(6.0,0.4)(6.3,-0.8)(6.5,1.2)(6.7,0.0)(7.0,1.7)(7.2,0.5)(7.5,-0.3)(7.7,1.0)(8.0,-0.9)(8.2,0.6)(8.4,-1.4)(8.6,2.5)(8.8,1.9)(9.0,0.2)(9.2,2.0)(9.5,-0.4)(9.7,2.7)(10.0,2.4)(10.2,0.8)(10.5,2.7)(10.7,-0.2)(11.0,1.5)(11.2,0.4)(11.5,1.6)(11.7,-0.6)(12.0,1.0)(12.2,0.1)(12.5,-0.8)(12.7,1.2)(13.0,-0.3)(13.2,-1.5)(13.5,0.7)(13.7,0.0)(14.0,2.1)(14.2,-0.7)(14.5,1.1)(14.7,0.3)(15.0,-0.5)(15.2,1.4)(15.5,0.6)(15.7,-0.1)(16.0,1.7)(16.2,0.2)(16.5,2.0)(16.7,-0.9)(17.0,0.8)(17.2,-0.4)(17.5,-1.2)(17.7,0.5)(18.1,-2.2)(18.3,0.1)(18.5,-0.6)(18.8,-2.4)(19.0,0.4)(19.3,-0.9)(19.5,1.6)(19.8,0.0)(20.0,-0.6)(20.3,0.9)(20.5,-0.2)(20.8,1.3)(21.0,-0.8)(21.3,0.5)(21.5,1.0)(21.8,-0.5)(22.0,0.7)(22.3,-0.9)(22.5,0.3)(22.8,2.1)(23.0,0.8)(23.3,-0.4)(23.5,0.6)(23.8,0.2)(24.0,-0.7)(24.3,0.9)(24.5,-1.0)(24.8,0.4)(25.0,1.1)(25.3,2.3)(25.5,0.5)(25.8,-0.3)(26.0,1.4)(26.3,0.2)(26.5,-0.6)(26.8,2.0)(27.0,-1.6)(27.3,0.7)(27.5,0.0)(27.8,1.0)(28.0,-0.5)(28.3,0.6)(28.5,1.4)(28.8,-0.2)(29.0,2.2)(29.3,0.8)(29.5,1.6)(29.8,-0.7)(30.0,0.4)(30.3,1.2)(30.5,0.1)(30.8,-0.9)(31.0,0.9)(31.3,1.9)(31.5,0.3)(31.8,-0.5)(32.0,1.0)(32.3,0.5)(32.5,-0.8)(32.8,1.3)(33.0,0.2)(33.3,0.7)(33.6,-1.6)(33.8,-2.0)(34.0,1.1)(34.3,-0.4)(34.5,0.6)(34.8,1.7)(35.0,0.0)(35.3,0.8)(35.5,-0.5)(35.8,1.2)(36.0,0.3)(36.3,-0.7)(36.5,1.5)(36.8,3.8)(37.0,0.5)(37.3,1.7)(37.5,-0.3)(37.8,0.9)(38.0,-0.9)(38.3,1.3)(38.5,2.8)(38.8,0.4)(39.0,1.1)(39.3,-0.6)(39.5,2.4)(39.8,0.7)(40.0,1.6)(40.3,-0.2)(40.5,0.9)(40.8,-1.0)(41.0,1.8)(41.3,2.8)(41.5,0.3)(41.8,-0.5)(42.0,1.2)(42.4,-2.4)(42.5,0.6)(42.8,1.0)(43.0,-0.3)(43.3,0.8)(43.5,-0.8)(43.8,0.4)(44.0,1.4)(44.3,-0.5)(44.5,0.9)(44.8,0.1)(45.0,-1.5)(45.3,0.6)(45.5,1.2)(45.8,-0.2)(46.0,1.0)(46.3,0.5)(46.6,2.6)(46.8,-0.4)(47.0,0.8)(47.3,1.4)(47.5,0.2)(47.8,-0.6)(48.0,1.9)(48.3,0.7)(48.5,1.2)(48.8,-0.3)(49.0,1.0)(49.3,1.6)(49.5,0.4)(49.8,1.2)(50.0,0.8)};
\addplot[pts] coordinates {(1.1,2.6)(1.5,3.8)(1.9,2.8)(2.3,2.0)(2.7,1.4)(3.0,0.9)(3.4,0.4)(3.8,0.8)(4.2,0.2)(4.6,0.6)(5.1,-0.1)(5.5,0.5)(5.9,-0.3)(6.4,0.3)(6.9,0.8)(7.3,0.0)(7.8,0.5)(8.3,0.1)(8.7,1.2)(9.1,1.6)(9.4,0.6)(9.9,1.3)(10.3,1.8)(10.8,0.7)(11.3,1.1)(11.8,0.3)(12.3,0.7)(12.8,-0.2)(13.3,0.4)(13.8,0.9)(14.3,0.1)(14.8,0.6)(15.3,-0.2)(15.8,0.5)(16.3,0.9)(16.8,0.2)(17.3,0.6)(17.8,-0.3)(18.4,0.3)(18.9,-0.4)(19.4,0.2)(19.9,0.6)(20.4,-0.1)(20.9,0.4)(21.4,-0.3)(21.9,0.3)(22.4,0.8)(22.9,0.1)(23.4,0.5)(23.9,-0.2)(24.4,0.4)(24.9,0.7)(25.4,0.1)(25.9,0.6)(26.4,-0.1)(26.9,0.5)(27.4,0.2)(27.9,0.7)(28.4,-0.1)(28.9,0.5)(29.4,1.0)(29.9,0.2)(30.4,0.6)(30.9,0.0)(31.4,0.5)(31.9,0.9)(32.4,0.1)(32.9,0.6)(33.4,-0.2)(33.9,0.4)(34.4,0.0)(34.9,0.6)(35.4,0.1)(35.9,0.5)(36.4,0.9)(36.9,0.3)(37.4,0.8)(37.9,0.2)(38.4,1.2)(38.9,0.6)(39.4,1.4)(39.9,0.5)(40.4,1.0)(40.9,0.2)(41.4,0.8)(41.9,0.3)(42.4,0.7)(42.9,0.1)(43.4,0.5)(43.9,-0.2)(44.4,0.6)(44.9,0.2)(45.4,0.8)(45.9,0.3)(46.4,1.1)(46.9,0.5)(47.4,0.9)(47.9,0.2)(48.4,0.7)(48.9,1.1)(49.4,0.6)(49.9,1.0)};
\addplot[crv] coordinates {(1,3.17)(2,1.59)(3,1.06)(4,0.79)(5,0.63)(6,0.53)(7,0.45)(8,0.40)(9,0.35)(10,0.32)(12,0.26)(15,0.21)(20,0.16)(25,0.13)(30,0.11)(35,0.09)(40,0.08)(45,0.07)(50,0.06)};
\plab{IDSO}
\end{axis}
\pgfresetboundingbox
\useasboundingbox (0pt,0pt) rectangle (523.5pt,-644.5pt);
\end{tikzpicture}
\end{document}
